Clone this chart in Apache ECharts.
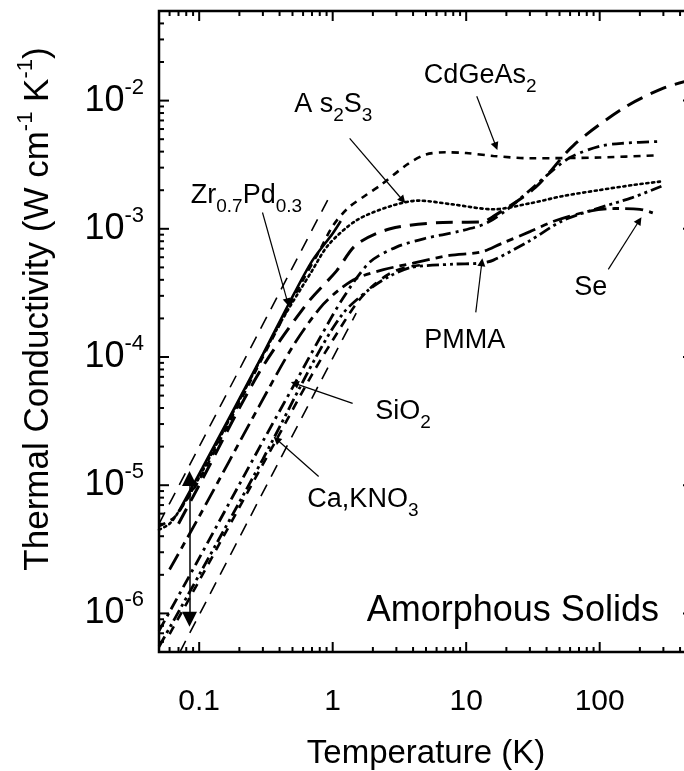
<!DOCTYPE html>
<html><head><meta charset="utf-8">
<script src="https://cdn.jsdelivr.net/npm/echarts@6/dist/echarts.min.js"></script>
<style>html,body{margin:0;padding:0;background:#fff}#c{width:684px;height:771px}</style>
</head><body><div id="c"></div>
<script>
const FONT = '"Liberation Sans", Arial, Helvetica, sans-serif';

// ---- axis extents and tick values ----
const X_MIN = 0.05, X_MAX = 500, Y_MIN = 5e-7, Y_MAX = 5e-2;
const xMajorTicks = [0.1, 1, 10, 100];
const xMinorTicks = [0.05,0.06,0.07,0.08,0.09,0.2,0.3,0.4,0.5,0.6,0.7,0.8,0.9,2,3,4,5,6,7,8,9,20,30,40,50,60,70,80,90,200,300,400];
const yMajorTicks = [1e-6, 1e-5, 1e-4, 1e-3, 1e-2];
const yMinorTicks = [6e-7,7e-7,8e-7,9e-7,2e-6,3e-6,4e-6,5e-6,6e-6,7e-6,8e-6,9e-6,2e-5,3e-5,4e-5,5e-5,6e-5,7e-5,8e-5,9e-5,2e-4,3e-4,4e-4,5e-4,6e-4,7e-4,8e-4,9e-4,2e-3,3e-3,4e-3,5e-3,6e-3,7e-3,8e-3,9e-3,2e-2,3e-2,4e-2];

// ---- curves (T in K, k in W cm^-1 K^-1) ----
const refUpperT = [0.05, 0.95];
const refUpperK = [5.0e-6, 1.8e-3];
const refLowerT = [0.06, 1.5];
const refLowerK = [3.5e-7, 2.2e-4];
const as2s3T = [0.05,0.06,0.07,0.085,0.1,0.2,0.4,0.7,0.93,1.5,2.7,4.4,7.9,16,30,53,98,180,300];
const as2s3K = [4.5e-6,5.0e-6,6.2e-6,8.5e-6,1.15e-5,4.6e-5,1.8e-4,4.7e-4,7.5e-4,1.16e-3,1.5e-3,1.66e-3,1.55e-3,1.42e-3,1.58e-3,1.8e-3,2.0e-3,2.2e-3,2.35e-3];
const zrpdT = [0.07,0.106,0.3,0.46,0.7,1.0,1.15];
const zrpdK = [6.2e-6,1.37e-5,1.05e-4,2.5e-4,5.6e-4,9.2e-4,1.15e-3];
const cdgeT = [0.05,0.065,0.08,0.1,0.3,0.6,0.8,1.0,1.3,1.8,2.3,3.65,5,7,10,16,30,100,280];
const cdgeK = [4.8e-6,5.6e-6,7.6e-6,1.1e-5,1.0e-4,4.0e-4,6.8e-4,1.05e-3,1.45e-3,1.85e-3,2.2e-3,3.2e-3,3.8e-3,3.95e-3,3.9e-3,3.7e-3,3.55e-3,3.6e-3,3.75e-3];
const longDashT = [0.07,0.1,0.28,0.64,1.07,1.5,2.7,6.7,13,16,33,64,155,300,480];
const longDashK = [5.0e-6,1.0e-5,7.5e-5,2.6e-4,4.7e-4,7.5e-4,1.0e-3,1.12e-3,1.13e-3,1.25e-3,2.1e-3,4.5e-3,8.9e-3,1.25e-2,1.45e-2];
const sio2T = [0.05,0.1,0.3,0.52,0.8,1.2,1.9,3,4.9,9,14,20,30,40,60,100,150,282];
const sio2K = [7.3e-7,2.7e-6,2.2e-5,6.2e-5,1.4e-4,2.9e-4,5.5e-4,7.2e-4,8.4e-4,9.6e-4,1.1e-3,1.4e-3,2.0e-3,2.6e-3,3.6e-3,4.4e-3,4.65e-3,4.8e-3];
const pmmaT = [0.05,0.1,0.3,0.75,1.2,1.9,2.7,3.9,8,13,16,29.5,53,98,175,290];
const pmmaK = [5.5e-7,2.0e-6,1.6e-5,1.0e-4,2.2e-4,3.4e-4,4.3e-4,5.0e-4,5.3e-4,5.4e-4,5.7e-4,8.0e-4,1.16e-3,1.45e-3,1.75e-3,2.15e-3];
const caknoT = [0.06,0.1,0.38,0.7,1.0,1.5,2.0,2.7,3.5,4.5];
const caknoK = [6.9e-7,1.8e-6,2.28e-5,7.3e-5,1.35e-4,2.6e-4,3.6e-4,4.5e-4,5.0e-4,5.2e-4];
const seT = [0.06,0.1,0.28,0.5,0.8,1.1,1.5,2.4,4,7.5,13,18,30,47,86,130,200,250];
const seK = [2.2e-6,5.7e-6,4.1e-5,1.2e-4,2.4e-4,3.3e-4,4.1e-4,4.8e-4,5.4e-4,6.2e-4,6.6e-4,7.6e-4,9.5e-4,1.16e-3,1.38e-3,1.44e-3,1.42e-3,1.33e-3];

// ---- annotations ----
const annText = ['{m|CdGeAs}{u|2}', '{m|A s}{u|2}{m|S}{u|3}', '{m|Zr}{u|0.7}{m|Pd}{u|0.3}', '{m|SiO}{u|2}', '{m|Ca,KNO}{u|3}', '{m|PMMA}', '{m|Se}', '{big|Amorphous Solids}'];
const annT = [4.82, 0.515, 0.0865, 2.08, 0.646, 4.86, 64.5, 1.8];
const annK = [1.575e-2, 9.35e-3, 1.81e-3, 3.77e-5, 7.68e-6, 1.34e-4, 3.5e-4, 1.04e-6];
const arrowFrom = [[12.0,1.08e-2],[1.34,5.08e-3],[0.298,1.34e-3],[1.41,4.35e-5],[0.785,1.17e-5],[11.8,2.23e-4],[116,4.83e-4]];
const arrowTo = [[16.7,4.4e-3],[3.35,1.67e-3],[0.46,2.67e-4],[0.519,6.23e-5],[0.38,2.28e-5],[13.1,5.48e-4],[198,1.16e-3]];
const rangeArrowT = 0.0846;
const rangeArrowK = [1.13e-5, 9.0e-7];

const zip = (a, b) => a.map((v, i) => [v, b[i]]);
const isPow10 = v => Math.abs(Math.log10(v) - Math.round(Math.log10(v))) < 1e-6;

function curve(name, T, K, width, dash, cap) {
  return {
    type: 'line', name, data: zip(T, K), showSymbol: false, symbol: 'none',
    smooth: 0.3, silent: true, z: 3,
    lineStyle: { color: '#000', width, type: dash, cap: cap || 'butt' }
  };
}

const xTickData = xMajorTicks.map(v => [v, 1e-4, 1]).concat(xMinorTicks.map(v => [v, 1e-4, 0]));
const yTickData = yMajorTicks.map(v => [1, v, 1]).concat(yMinorTicks.map(v => [1, v, 0]));

const chart = echarts.init(document.getElementById('c'), null, { renderer: 'canvas' });
chart.setOption({
  animation: false,
  backgroundColor: '#fff',
  textStyle: { fontFamily: FONT, color: '#000' },
  grid: { left: 159, top: 11, width: 534, height: 641, show: true, borderColor: '#000', borderWidth: 2.5,
          containLabel: false, outerBoundsMode: 'none' },
  xAxis: {
    type: 'log', logBase: 10, min: X_MIN, max: X_MAX,
    axisLine: { show: false }, axisTick: { show: false }, splitLine: { show: false }, minorTick: { show: false },
    axisLabel: {
      margin: 35, fontSize: 30, fontFamily: FONT, color: '#000',
      showMinLabel: true, showMaxLabel: true,
      formatter: v => { if (!isPow10(v)) return ''; const e = Math.round(Math.log10(v)); return e < 0 ? Math.pow(10, e).toFixed(-e) : String(Math.pow(10, e)); }
    },
    name: 'Temperature (K)', nameLocation: 'middle', nameGap: 85,
    nameTextStyle: { fontSize: 33, fontFamily: FONT, color: '#000' }
  },
  yAxis: {
    type: 'log', logBase: 10, min: Y_MIN, max: Y_MAX,
    axisLine: { show: false }, axisTick: { show: false }, splitLine: { show: false }, minorTick: { show: false },
    axisLabel: {
      margin: 15,
      formatter: v => { if (!isPow10(v)) return ''; const e = Math.round(Math.log10(v)); return '{b|10}{s|' + e + '}'; },
      rich: {
        b: { fontSize: 36, fontFamily: FONT, color: '#000' },
        s: { fontSize: 22, fontFamily: FONT, color: '#000', verticalAlign: 'top', padding: [0, 0, 26, 0] }
      }
    }
  },
  graphic: [{
    type: 'text', x: 38, y: 309, rotation: Math.PI / 2, silent: true,
    style: {
      text: '{t|Thermal Conductivity (W cm}{s|-1}{t| K}{s|-1}{t|)}',
      align: 'center', verticalAlign: 'middle', textAlign: 'center', textVerticalAlign: 'middle',
      rich: {
        t: { fontSize: 35, fontFamily: FONT, fill: '#000', color: '#000' },
        s: { fontSize: 22, fontFamily: FONT, fill: '#000', color: '#000', verticalAlign: 'top', padding: [0, 0, 24, 0] }
      }
    }
  }],
  series: [
    curve('ref upper', refUpperT, refUpperK, 1.6, [13, 9]),
    curve('ref lower', refLowerT, refLowerK, 1.6, [13, 9]),
    curve('As2S3', as2s3T, as2s3K, 2.6, [2.2, 3.6], 'round'),
    curve('Zr0.7Pd0.3', zrpdT, zrpdK, 2.6, 'solid'),
    curve('CdGeAs2', cdgeT, cdgeK, 2.6, [7, 6]),
    curve('long dash', longDashT, longDashK, 3, [17, 9]),
    curve('SiO2', sio2T, sio2K, 2.8, [12, 5, 3, 5]),
    curve('PMMA', pmmaT, pmmaK, 2.8, [12, 4, 3, 4, 3, 4]),
    curve('Ca,KNO3', caknoT, caknoK, 2.6, [9, 7]),
    curve('Se', seT, seK, 2.8, [18, 6, 7, 6]),
    {
      type: 'custom', name: 'xticks', silent: true, clip: false, z: 5,
      data: xTickData, encode: { x: 0, y: 1 },
      renderItem: (params, api) => {
        const v = api.value(0), major = api.value(2);
        const b = api.coord([v, Y_MIN]), t = api.coord([v, Y_MAX]);
        const len = major ? 10 : 5;
        const st = { stroke: '#000', lineWidth: 2 };
        return { type: 'group', children: [
          { type: 'line', shape: { x1: b[0], y1: b[1], x2: b[0], y2: b[1] - len }, style: st },
          { type: 'line', shape: { x1: t[0], y1: t[1], x2: t[0], y2: t[1] + len }, style: st }
        ] };
      }
    },
    {
      type: 'custom', name: 'yticks', silent: true, clip: false, z: 5,
      data: yTickData, encode: { x: 0, y: 1 },
      renderItem: (params, api) => {
        const v = api.value(1), major = api.value(2);
        const l = api.coord([X_MIN, v]), r = api.coord([X_MAX, v]);
        const len = major ? 10 : 5;
        const st = { stroke: '#000', lineWidth: 2 };
        return { type: 'group', children: [
          { type: 'line', shape: { x1: l[0], y1: l[1], x2: l[0] + len, y2: l[1] }, style: st },
          { type: 'line', shape: { x1: r[0], y1: r[1], x2: r[0] - len, y2: r[1] }, style: st }
        ] };
      }
    },
    {
      type: 'scatter', name: 'labels', silent: true, symbolSize: 0, z: 6,
      itemStyle: { color: '#000', opacity: 1 },
      data: annT.map((t, i) => ({ value: [t, annK[i]], label: { formatter: annText[i] } })),
      label: {
        show: true, position: 'right', distance: 0, color: '#000', opacity: 1,
        textBorderWidth: 0, textShadowBlur: 0,
        rich: {
          m: { fontSize: 27, fontFamily: FONT, color: '#000', opacity: 1 },
          u: { fontSize: 19, fontFamily: FONT, color: '#000', opacity: 1, verticalAlign: 'bottom', padding: [22, 0, 0, 0] },
          big: { fontSize: 36, fontFamily: FONT, color: '#000', opacity: 1 }
        }
      },
      markLine: {
        silent: true, animation: false, symbol: ['none', 'triangle'], symbolSize: 8, precision: 10,
        label: { show: false },
        lineStyle: { color: '#000', width: 1.2, type: 'solid', opacity: 1 },
        itemStyle: { color: '#000' },
        data: arrowFrom.map((f, i) => [{ coord: f }, { coord: arrowTo[i] }])
      }
    },
    {
      type: 'scatter', name: 'range', silent: true, symbolSize: 0, data: [],
      markLine: {
        silent: true, animation: false, symbol: ['triangle', 'triangle'], symbolSize: 15, precision: 10,
        label: { show: false },
        lineStyle: { color: '#000', width: 1.5, type: 'solid', opacity: 1 },
        itemStyle: { color: '#000' },
        data: [[{ coord: [rangeArrowT, rangeArrowK[0]] }, { coord: [rangeArrowT, rangeArrowK[1]] }]]
      }
    }
  ]
});
</script></body></html>
